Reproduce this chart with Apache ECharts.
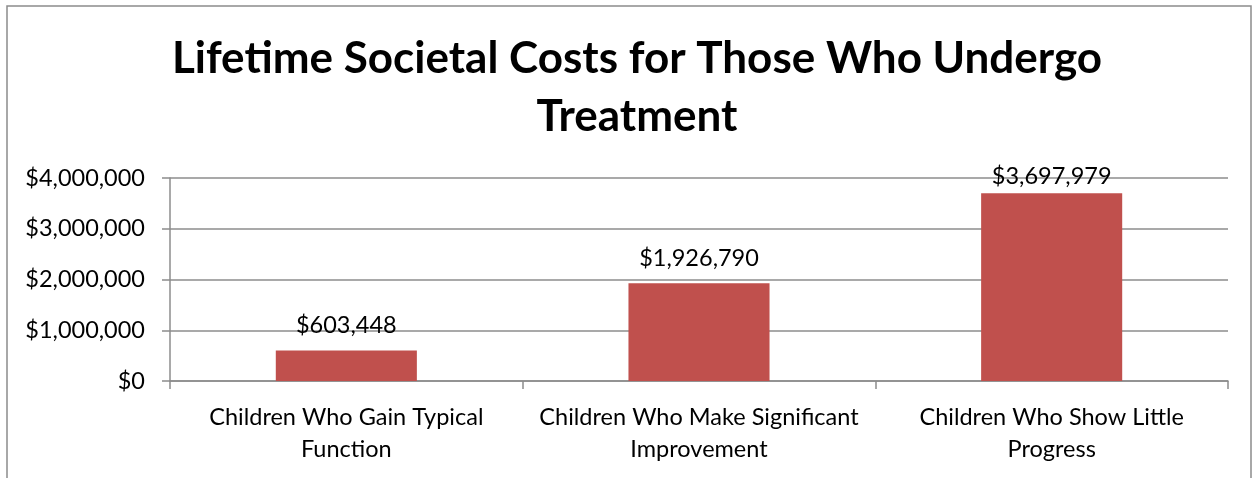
<!DOCTYPE html>
<html>
<head>
<meta charset="utf-8">
<script src="https://cdn.jsdelivr.net/npm/echarts@6/dist/echarts.min.js"></script>
<style>
html,body{margin:0;padding:0;background:#fff;}
#c{width:1253px;height:478px;}
</style>
</head>
<body>
<div id="c"></div>
<script>
var titleText = 'Lifetime Societal Costs for Those Who Undergo\nTreatment';
var categories = ['Children Who Gain Typical\nFunction', 'Children Who Make Significant\nImprovement', 'Children Who Show Little\nProgress'];
var costs = [603448, 1926790, 3697979];
var yMin = 0, yMax = 4000000, yStep = 1000000;

function money(v){ return '$' + Number(v).toLocaleString('en-US'); }

// labels near the top of the value range are nudged closer to their bar (as in the source)
var barData = costs.map(function(v){
  return { value: v, label: { distance: (v > yMax * 0.85) ? 5 : 13 } };
});

var chart = echarts.init(document.getElementById('c'));
chart.setOption({
  animation: false,
  backgroundColor: '#fff',
  title: {
    text: titleText,
    left: 632, top: 25, textAlign: 'center',
    textStyle: { fontFamily: 'Lato', fontWeight: 'bold', fontSize: 44, lineHeight: 58, color: '#000' }
  },
  graphic: [{
    type: 'rect', shape: { x: 7, y: 6, width: 1244, height: 500 },
    style: { fill: 'none', stroke: '#8c8c8c', lineWidth: 1.5 }, silent: true
  }],
  grid: { left: 170, right: 25, top: 178, bottom: 97 },
  xAxis: {
    type: 'category', data: categories,
    axisLine: { lineStyle: { color: '#8c8c8c', width: 1.5 } },
    axisTick: { show: true, length: 8, lineStyle: { color: '#8c8c8c', width: 1.5 } },
    axisLabel: { margin: 20, color: '#000', fontFamily: 'Lato', fontSize: 23.5, lineHeight: 32, interval: 0 }
  },
  yAxis: {
    type: 'value', min: yMin, max: yMax, interval: yStep,
    axisLine: { show: true, lineStyle: { color: '#8c8c8c', width: 1.5 } },
    axisTick: { show: true, length: 8, lineStyle: { color: '#8c8c8c', width: 1.5 } },
    splitLine: { lineStyle: { color: '#8c8c8c', width: 1.5 } },
    axisLabel: { margin: 25, color: '#000', fontFamily: 'Lato', fontSize: 23.5, formatter: money }
  },
  series: [{
    type: 'bar', data: barData, barWidth: '40%',
    itemStyle: { color: '#C0504D' },
    label: { show: true, position: 'top', distance: 13, color: '#000', fontFamily: 'Lato', fontSize: 23.5,
      formatter: function(p){ return money(p.value); } }
  }]
});
</script>
</body>
</html>
